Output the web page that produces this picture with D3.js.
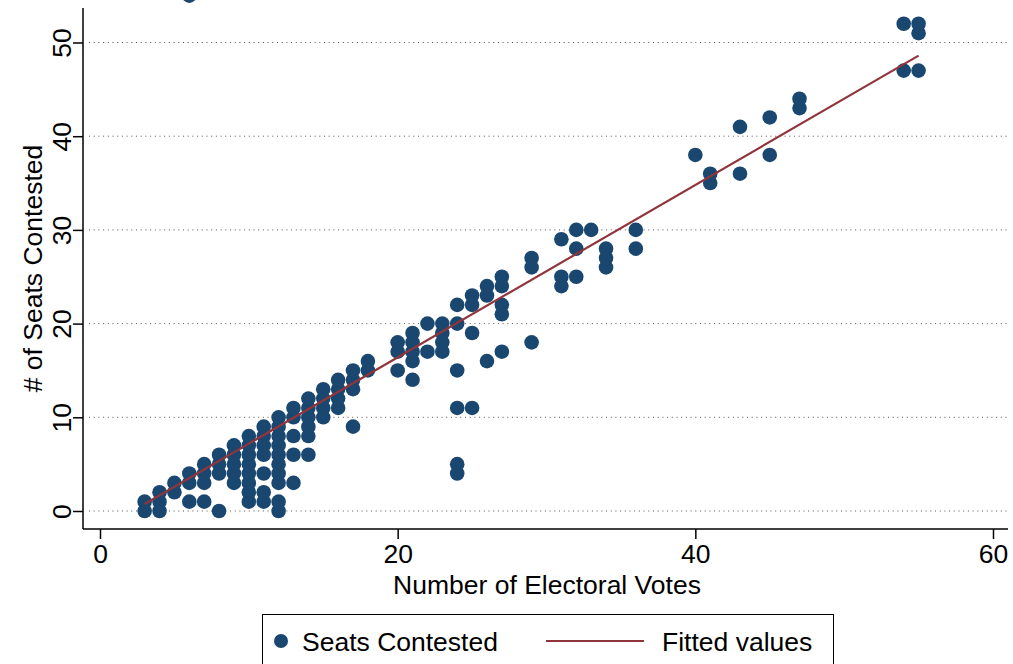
<!DOCTYPE html>
<html>
<head>
<meta charset="utf-8">
<script src="https://cdn.jsdelivr.net/npm/d3@7"></script>
<style>
  body { margin: 0; background: #fff; }
  svg text { font-family: "Liberation Sans", Arial, Helvetica, sans-serif; fill: #000; }
</style>
</head>
<body>
<div class="canvas"></div>
<script>
// electoral votes (x) and seats contested (y), one entry per state/year
const votes = [
  3,3, 4,4,4, 5,5, 6,6,6,6, 7,7,7,7, 8,8,8,8, 9,9,9,9,9,
  10,10,10,10,10,10,10,10, 11,11,11,11,11,11,11,
  12,12,12,12,12,12,12,12,12,12, 13,13,13,13,13, 14,14,14,14,14,14,
  15,15,15,15, 16,16,16,16, 17,17,17,17, 18,18, 20,20,20,
  21,21,21,21,21, 22,22, 23,23,23,23, 24,24,24,24,24,24, 25,25,25,25,
  26,26,26, 27,27,27,27,27, 29,29,29, 31,31,31, 32,32,32, 33,
  34,34,34, 36,36, 40, 41,41, 43,43, 45,45, 47,47, 54,54, 55,55,55
];
const seats = [
  0,1, 0,1,2, 2,3, 1,3,4,55, 1,3,4,5, 0,4,5,6, 3,4,5,6,7,
  1,2,3,4,5,6,7,8, 1,2,4,6,7,8,9,
  0,1,3,4,5,6,7,8,9,10, 3,6,8,10,11, 6,8,9,10,11,12,
  10,11,12,13, 11,12,13,14, 9,13,14,15, 15,16, 15,17,18,
  14,16,17,18,19, 17,20, 17,18,19,20, 4,5,11,15,20,22, 11,19,22,23,
  16,23,24, 17,21,22,24,25, 18,26,27, 24,25,29, 25,28,30, 30,
  26,27,28, 28,30, 38, 35,36, 36,41, 38,42, 43,44, 47,52, 47,51,52
];

// fitted values line at its two ends
const fitX = [3, 55];
const fitY = [0.75, 48.6];

const xTicks = [0, 20, 40, 60];
const yTicks = [0, 10, 20, 30, 40, 50];
const legendLabels = ['Seats Contested', 'Fitted values'];

const navy = '#1a476f';
const maroon = '#90353b';
const fontSize = 26.5;

const width = 1013, height = 664;

const svg = d3.select('.canvas')
  .append('svg')
    .attr('width', width)
    .attr('height', height);

const x = d3.scaleLinear().domain([0, 60]).range([100, 993]);
const y = d3.scaleLinear().domain([0, 50]).range([511, 42.5]);

const plotLeft = 83, plotRight = 1008, plotTop = 8, plotBottom = 529;

// grid lines
svg.append('g')
  .selectAll('line')
  .data(yTicks)
  .enter().append('line')
    .attr('x1', plotLeft + 6)
    .attr('x2', plotRight)
    .attr('y1', d => y(d))
    .attr('y2', d => y(d))
    .attr('stroke', '#555')
    .attr('stroke-width', 1)
    .attr('stroke-dasharray', '1,3.7');

// axes
const xAxis = d3.axisBottom(x).tickValues(xTicks).tickSize(10).tickPadding(5);
const yAxis = d3.axisLeft(y).tickValues(yTicks).tickSize(10).tickPadding(6);

const xAxisGroup = svg.append('g')
  .attr('transform', `translate(0,${plotBottom})`)
  .call(xAxis);
xAxisGroup.select('.domain').remove();
xAxisGroup.append('line')
  .attr('x1', plotLeft).attr('x2', plotRight)
  .attr('stroke', '#000').attr('stroke-width', 1.5);
xAxisGroup.selectAll('.tick line').attr('stroke-width', 1.5);
xAxisGroup.selectAll('.tick text')
  .attr('font-size', fontSize)
  .attr('font-family', '"Liberation Sans", Arial, sans-serif')
  .attr('fill', '#000');

const yAxisGroup = svg.append('g')
  .attr('transform', `translate(${plotLeft},0)`)
  .call(yAxis);
yAxisGroup.select('.domain').remove();
yAxisGroup.append('line')
  .attr('y1', plotTop).attr('y2', plotBottom)
  .attr('stroke', '#000').attr('stroke-width', 1.5);
yAxisGroup.selectAll('.tick line').attr('stroke-width', 1.5);
yAxisGroup.selectAll('.tick text')
  .attr('font-size', fontSize)
  .attr('font-family', '"Liberation Sans", Arial, sans-serif')
  .attr('fill', '#000')
  .attr('text-anchor', 'middle')
  .attr('dy', 0)
  .attr('x', 0)
  .attr('transform', 'translate(-12,0) rotate(-90)');

// axis titles
svg.append('text')
  .attr('x', 547)
  .attr('y', 594)
  .attr('text-anchor', 'middle')
  .attr('font-size', fontSize)
  .text('Number of Electoral Votes');

svg.append('text')
  .attr('transform', `translate(42,${(plotTop + plotBottom) / 2}) rotate(-90)`)
  .attr('text-anchor', 'middle')
  .attr('font-size', fontSize)
  .text('# of Seats Contested');

// scatter points
const points = votes.map((v, i) => ({votes: v, seats: seats[i]}));

svg.append('g')
  .selectAll('circle')
  .data(points)
  .enter().append('circle')
    .attr('cx', d => x(d.votes))
    .attr('cy', d => y(d.seats))
    .attr('r', 7.3)
    .attr('fill', navy);

// fitted line
const fit = fitX.map((v, i) => [v, fitY[i]]);
svg.append('path')
  .datum(fit)
  .attr('d', d3.line().x(d => x(d[0])).y(d => y(d[1])))
  .attr('fill', 'none')
  .attr('stroke', maroon)
  .attr('stroke-width', 2.2);

// legend
const legend = svg.append('g');
legend.append('rect')
  .attr('x', 262.5).attr('y', 614.5)
  .attr('width', 571).attr('height', 70)
  .attr('fill', '#fff')
  .attr('stroke', '#000')
  .attr('stroke-width', 1);

legend.append('circle')
  .attr('cx', 281).attr('cy', 641)
  .attr('r', 7)
  .attr('fill', navy);
legend.append('text')
  .attr('x', 302).attr('y', 651)
  .attr('font-size', fontSize)
  .text(legendLabels[0]);

legend.append('line')
  .attr('x1', 546).attr('x2', 644)
  .attr('y1', 641).attr('y2', 641)
  .attr('stroke', maroon)
  .attr('stroke-width', 2.2);
legend.append('text')
  .attr('x', 662).attr('y', 651)
  .attr('font-size', fontSize)
  .text(legendLabels[1]);
</script>
</body>
</html>
